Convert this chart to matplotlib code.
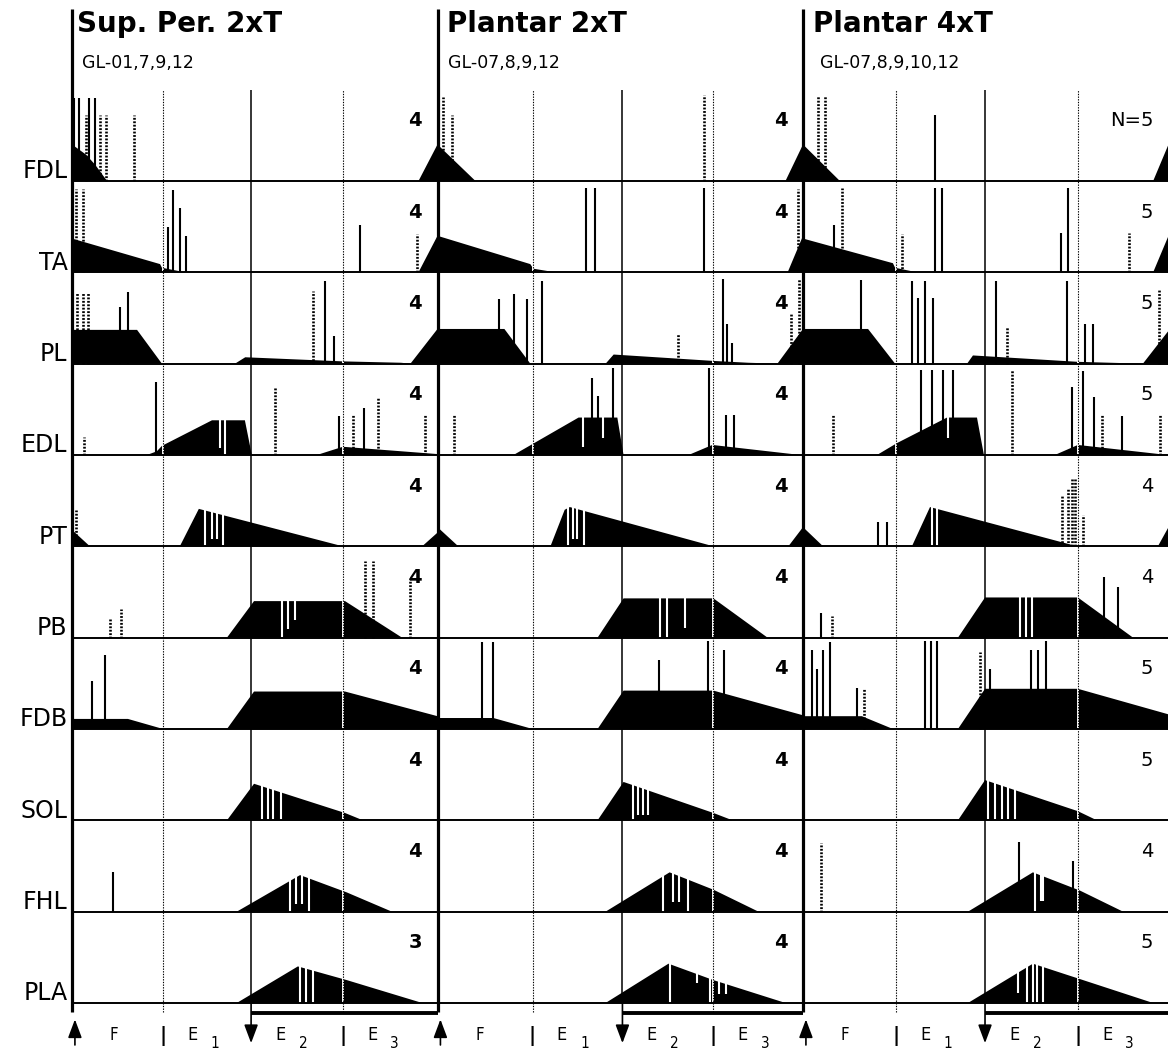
import numpy as np
import matplotlib
matplotlib.use("Agg")
import matplotlib.pyplot as plt

# ---------------- data ----------------
MUSCLES = ["FDL", "TA", "PL", "EDL", "PT", "PB", "FDB", "SOL", "FHL", "PLA"]
TITLES = ["Sup. Per. 2xT", "Plantar 2xT", "Plantar 4xT"]
SUBTITLES = ["GL-01,7,9,12", "GL-07,8,9,12", "GL-07,8,9,10,12"]
N_SUP = ["4", "4", "4", "4", "4", "4", "4", "4", "4", "3"]
N_PL2 = ["4", "4", "4", "4", "4", "4", "4", "4", "4", "4"]
N_PL4 = ["N=5", "5", "5", "5", "4", "4", "5", "5", "4", "5"]
PHASE_NAMES = ["F", "E", "E", "E"]
PHASE_SUBS = ["", "1", "2", "3"]

# profiles: (phase, relative height) ; bars: (phase, height) ; gaps: (phase, bottom height)
PROFILE_SUP = {
    "FDL": [(0, 0.40), (0.038, 0.29), (0.063, 0.18), (0.096, 0), (0.948, 0), (1.0, 0.40)],
    "TA": [(0, 0.37), (0.241, 0.09), (0.246, 0.05), (0.31, 0), (0.948, 0), (1.0, 0.40)],
    "PL": [(0, 0.37), (0.178, 0.37), (0.246, 0), (0.446, 0), (0.474, 0.07), (0.741, 0.025),
           (0.90, 0.01), (0.926, 0), (1.0, 0.38)],
    "EDL": [(0.205, 0), (0.232, 0.04), (0.246, 0.10), (0.383, 0.38), (0.473, 0.38), (0.492, 0),
            (0.670, 0), (0.741, 0.09), (1.0, 0.01)],
    "PT": [(0, 0.18), (0.049, 0), (0.295, 0), (0.347, 0.41), (0.741, 0), (0.958, 0), (1.0, 0.15)],
    "PB": [(0.424, 0), (0.498, 0.40), (0.747, 0.40), (0.903, 0)],
    "FDB": [(0, 0.11), (0.153, 0.11), (0.249, 0), (0.424, 0), (0.498, 0.41), (0.747, 0.41), (1.0, 0.14)],
    "SOL": [(0.424, 0), (0.498, 0.40), (0.747, 0.08), (0.796, 0)],
    "FHL": [(0.451, 0), (0.624, 0.40), (0.752, 0.21), (0.875, 0)],
    "PLA": [(0.451, 0), (0.618, 0.40), (0.752, 0.25), (0.958, 0)],
}
BARS_SUP = {
    "FDL": [(0.005, 0.905), (0.020, 0.905), (0.047, 0.905), (0.063, 0.905)],
    "TA": [(0.263, 0.50), (0.276, 0.90), (0.295, 0.70), (0.312, 0.40), (0.788, 0.52)],
    "PL": [(0.131, 0.62), (0.153, 0.79), (0.692, 0.90), (0.717, 0.30)],
    "EDL": [(0.230, 0.80), (0.730, 0.43), (0.799, 0.52)],
    "FDB": [(0.055, 0.52), (0.090, 0.81)],
    "FHL": [(0.112, 0.43)],
}
DOTS_SUP = {
    "FDL": [(0.038, 0.72), (0.077, 0.72), (0.093, 0.72), (0.170, 0.72)],
    "TA": [(0.011, 0.91), (0.030, 0.91), (0.945, 0.42)],
    "PL": [(0.014, 0.79), (0.030, 0.79), (0.044, 0.79), (0.659, 0.80)],
    "EDL": [(0.033, 0.20), (0.555, 0.74), (0.769, 0.44), (0.837, 0.63), (0.966, 0.44)],
    "PT": [(0.011, 0.40)],
    "PB": [(0.104, 0.22), (0.134, 0.31), (0.802, 0.84), (0.823, 0.84), (0.925, 0.66)],
}
GAPS_SUP = {
    "EDL": [(0.405, 0.08), (0.418, 0.0)],
    "PT": [(0.364, 0), (0.383, 0.08), (0.397, 0.08), (0.414, 0)],
    "PB": [(0.575, 0), (0.590, 0.09), (0.610, 0.19)],
    "SOL": [(0.520, 0), (0.536, 0), (0.551, 0), (0.572, 0)],
    "FHL": [(0.596, 0), (0.614, 0.08), (0.630, 0.08), (0.648, 0)],
    "PLA": [(0.625, 0), (0.640, 0), (0.660, 0)],
}

PROFILE_PL2 = {
    "FDL": [(0, 0.40), (0.104, 0), (0.952, 0), (1.0, 0.40)],
    "TA": [(0, 0.40), (0.254, 0.09), (0.262, 0.04), (0.323, 0), (0.958, 0), (1.0, 0.40)],
    "PL": [(0, 0.38), (0.183, 0.38), (0.254, 0), (0.460, 0), (0.482, 0.10), (0.755, 0.03),
           (0.85, 0.01), (0.930, 0), (1.0, 0.38)],
    "EDL": [(0.208, 0), (0.386, 0.41), (0.492, 0.41), (0.509, 0), (0.687, 0), (0.752, 0.11), (0.993, 0)],
    "PT": [(0, 0.21), (0.057, 0), (0.309, 0), (0.348, 0.40), (0.362, 0.43), (0.755, 0), (0.960, 0), (1.0, 0.21)],
    "PB": [(0.438, 0), (0.509, 0.43), (0.755, 0.43), (0.903, 0)],
    "FDB": [(0, 0.12), (0.153, 0.12), (0.260, 0), (0.438, 0), (0.509, 0.42), (0.755, 0.42), (1.0, 0.15)],
    "SOL": [(0.438, 0), (0.509, 0.42), (0.755, 0.08), (0.807, 0)],
    "FHL": [(0.460, 0), (0.635, 0.43), (0.755, 0.24), (0.878, 0)],
    "PLA": [(0.460, 0), (0.632, 0.43), (0.755, 0.25), (0.952, 0)],
}
BARS_PL2 = {
    "TA": [(0.405, 0.92), (0.430, 0.92), (0.728, 0.92)],
    "PL": [(0.167, 0.71), (0.208, 0.76), (0.246, 0.71), (0.287, 0.91), (0.780, 0.93), (0.793, 0.43), (0.807, 0.23)],
    "EDL": [(0.424, 0.84), (0.438, 0.65), (0.481, 0.95), (0.744, 0.95), (0.788, 0.44), (0.810, 0.44)],
    "FDB": [(0.123, 0.95), (0.153, 0.95), (0.605, 0.76), (0.741, 0.96), (0.785, 0.86)],
}
DOTS_PL2 = {
    "FDL": [(0.016, 0.92), (0.041, 0.72), (0.728, 0.94)],
    "TA": [(0.985, 0.91)],
    "PL": [(0.657, 0.32), (0.968, 0.54), (0.988, 0.93)],
    "EDL": [(0.044, 0.44)],
}
GAPS_PL2 = {
    "EDL": [(0.399, 0.09), (0.454, 0.19)],
    "PT": [(0.356, 0), (0.370, 0.08), (0.381, 0.08), (0.400, 0)],
    "PB": [(0.610, 0), (0.629, 0), (0.678, 0.11)],
    "SOL": [(0.534, 0), (0.549, 0.06), (0.562, 0.06), (0.575, 0.06)],
    "FHL": [(0.618, 0), (0.643, 0.10), (0.662, 0.10), (0.684, 0)],
    "PLA": [(0.637, 0), (0.711, 0.22), (0.745, 0), (0.770, 0.10), (0.788, 0.10)],
}

PROFILE_PL4 = {
    "FDL": [(0, 0.40), (0.101, 0), (0.958, 0), (1.0, 0.40)],
    "TA": [(0, 0.37), (0.246, 0.10), (0.252, 0.05), (0.312, 0), (0.958, 0), (1.0, 0.40)],
    "PL": [(0, 0.38), (0.178, 0.38), (0.252, 0), (0.449, 0), (0.465, 0.09), (0.752, 0.02),
           (0.930, 0), (1.0, 0.36)],
    "EDL": [(0.2025, 0), (0.257, 0.13), (0.394, 0.41), (0.476, 0.41), (0.495, 0), (0.689, 0),
            (0.752, 0.11), (0.997, 0)],
    "PT": [(0, 0.21), (0.055, 0), (0.298, 0), (0.3475, 0.43), (0.750, 0), (0.971, 0), (1.0, 0.21)],
    "PB": [(0.424, 0), (0.498, 0.44), (0.752, 0.44), (0.903, 0)],
    "FDB": [(0, 0.14), (0.161, 0.14), (0.246, 0), (0.424, 0), (0.498, 0.44), (0.752, 0.44), (1.0, 0.16)],
    "SOL": [(0.424, 0), (0.498, 0.44), (0.752, 0.10), (0.804, 0)],
    "FHL": [(0.4515, 0), (0.629, 0.43), (0.758, 0.23), (0.8755, 0)],
    "PLA": [(0.4515, 0), (0.629, 0.43), (0.9576, 0)],
}
BARS_PL4 = {
    "FDL": [(0.361, 0.72)],
    "TA": [(0.085, 0.52), (0.361, 0.92), (0.380, 0.92), (0.706, 0.43), (0.725, 0.92)],
    "PL": [(0.159, 0.92), (0.298, 0.90), (0.315, 0.72), (0.334, 0.90), (0.356, 0.72), (0.528, 0.90),
           (0.722, 0.90), (0.772, 0.43), (0.793, 0.43)],
    "EDL": [(0.323, 0.93), (0.353, 0.93), (0.383, 0.93), (0.410, 0.93), (0.736, 0.74), (0.766, 0.92),
            (0.796, 0.64), (0.873, 0.43)],
    "PT": [(0.205, 0.27), (0.230, 0.27)],
    "PB": [(0.049, 0.27), (0.824, 0.66), (0.862, 0.55)],
    "FDB": [(0.025, 0.86), (0.038, 0.66), (0.055, 0.86), (0.074, 0.95), (0.148, 0.45), (0.334, 0.96),
            (0.350, 0.96), (0.367, 0.96), (0.512, 0.66), (0.624, 0.86), (0.643, 0.86), (0.665, 0.96)],
    "FHL": [(0.591, 0.76), (0.739, 0.55)],
}
DOTS_PL4 = {
    "FDL": [(0.041, 0.93), (0.060, 0.93)],
    "TA": [(0.107, 0.92), (0.271, 0.42), (0.892, 0.43)],
    "PL": [(0.558, 0.40), (0.974, 0.81)],
    "EDL": [(0.082, 0.44), (0.572, 0.93), (0.818, 0.44), (0.977, 0.44)],
    "PT": [(0.709, 0.56), (0.725, 0.64), (0.736, 0.74), (0.744, 0.74), (0.766, 0.34)],
    "PB": [(0.079, 0.24)],
    "FDB": [(0.167, 0.45), (0.484, 0.84)],
    "FHL": [(0.049, 0.75)],
}
GAPS_PL4 = {
    "EDL": [(0.397, 0.19)],
    "PT": [(0.353, 0), (0.367, 0)],
    "PB": [(0.594, 0), (0.610, 0), (0.627, 0)],
    "SOL": [(0.506, 0), (0.525, 0), (0.544, 0), (0.561, 0), (0.580, 0)],
    "FHL": [(0.635, 0), (0.650, 0.12), (0.658, 0.12)],
    "PLA": [(0.588, 0.11), (0.613, 0), (0.629, 0), (0.640, 0), (0.657, 0)],
}

# phase boundaries per panel: F|E1 (dotted), E1|E2 (solid), E2|E3 (dotted)
BOUNDS = [(0.249, 0.490, 0.741), (0.260, 0.506, 0.755), (0.254, 0.498, 0.752)]

PANELS = [
    (PROFILE_SUP, BARS_SUP, DOTS_SUP, GAPS_SUP, N_SUP),
    (PROFILE_PL2, BARS_PL2, DOTS_PL2, GAPS_PL2, N_PL2),
    (PROFILE_PL4, BARS_PL4, DOTS_PL4, GAPS_PL4, N_PL4),
]

# ---------------- figure ----------------
fig = plt.figure(figsize=(11.68, 10.53), dpi=100)
ax = fig.add_axes([0, 0, 1, 1])
ax.set_xlim(-72 / 365.5, 1096 / 365.5)
ax.set_ylim(-10.548, 0.982)
ax.axis("off")

NROW = len(MUSCLES)
DOT = (0, (0.7, 0.6))
ARROW = dict(arrowstyle="-|>,head_length=0.8,head_width=0.3", color="black",
             lw=1.2, shrinkA=0, shrinkB=0, mutation_scale=14)

for p, (prof, bars, dots, gaps, ns) in enumerate(PANELS):
    for i, m in enumerate(MUSCLES):
        base = -(i + 1)
        pts = prof.get(m, [])
        if pts:
            xs = [p + x for x, _ in pts]
            hs = [base + h for _, h in pts]
            ax.fill([xs[0]] + xs + [xs[-1]], [base] + hs + [base], color="black", lw=0, zorder=1)
            px = [q[0] for q in pts]
            ph = [q[1] for q in pts]
            for x, hb in gaps.get(m, []):
                top = np.interp(x, px, ph) + 0.03
                ax.vlines(p + x, base + hb, base + top, color="white", lw=1.5, zorder=2)
        for x, h in bars.get(m, []):
            ax.vlines(p + x, base, base + h, color="black", lw=1.5, zorder=4)
        for x, h in dots.get(m, []):
            ax.vlines(p + x, base, base + h, color="black", lw=1.9, linestyles=[DOT], zorder=4)
        ax.text(p + 0.958, base + 0.66, ns[i], ha="right", va="center", fontsize=14,
                fontweight="bold" if p < 2 else "normal", zorder=6)

    b1, b2, b3 = BOUNDS[p]
    for b in (b1, b3):
        ax.vlines(p + b, -NROW, 0, color="white", lw=1.4, zorder=2.5)
        ax.vlines(p + b, -NROW - 0.1, 0, color="black", lw=0.8, linestyles=[(0, (1.2, 1.2))], zorder=3)
    ax.vlines(p + b2, -NROW, 0, color="black", lw=1.1, zorder=3)
    ax.annotate("", xy=(p + b2, -10.44), xytext=(p + b2, -NROW), arrowprops=ARROW)
    ax.hlines(-10.11, p + b2, p + 1, color="black", lw=2.8, zorder=5)
    ax.vlines(p, -10.1, 0.88, color="black", lw=2.3, zorder=5)

    # titles
    ax.text(p + [0.014, 0.027, 0.027][p], 0.72, TITLES[p], ha="left", va="center",
            fontsize=20, fontweight="bold")
    ax.text(p + [0.027, 0.030, 0.047][p], 0.29, SUBTITLES[p], ha="left", va="center", fontsize=12.5)

    # phase labels
    ax.text(p + 0.115, -10.35, PHASE_NAMES[0], ha="center", va="center", fontsize=12,
            fontstretch="condensed")
    for b, name, sub in zip((b1, b2, b3), PHASE_NAMES[1:], PHASE_SUBS[1:]):
        ax.text(p + b + 0.08, -10.35, name, ha="center", va="center", fontsize=13,
                fontstretch="condensed")
        ax.text(p + b + 0.142, -10.44, sub, ha="center", va="center", fontsize=11,
                fontstretch="condensed")
    for b in (b1, b3):
        ax.text(p + b, -10.36, "|", ha="center", va="center", fontsize=14, fontweight="bold")

for x in range(4):
    ax.annotate("", xy=(x + 0.008, -10.18), xytext=(x + 0.008, -10.46), arrowprops=ARROW)

for i, m in enumerate(MUSCLES):
    ax.hlines(-(i + 1), 0, 3.0, color="black", lw=1.4, zorder=5)
    ax.text(-0.012, -(i + 1) + 0.03, m, ha="right", va="baseline", fontsize=17)

fig.savefig("out.png", dpi=100)
